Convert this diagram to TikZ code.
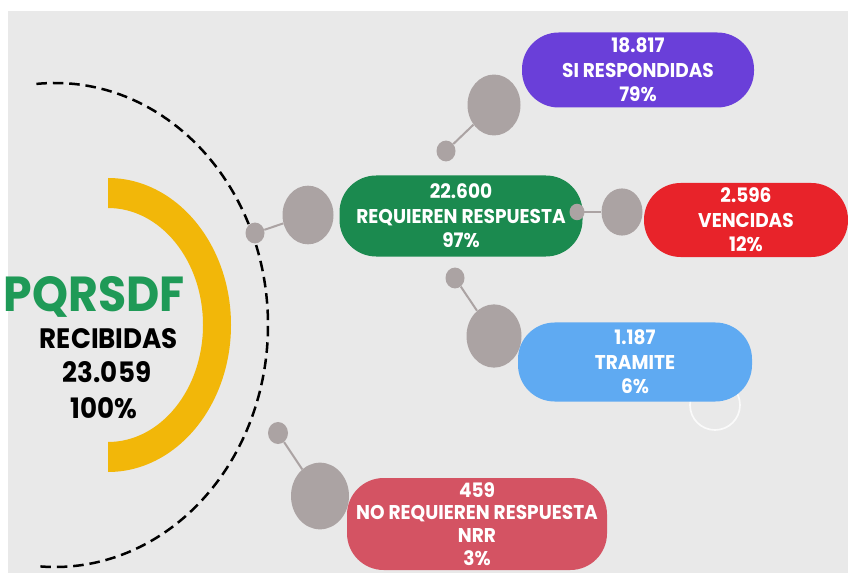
\documentclass[tikz,border=0pt]{standalone}
\usepackage{fontspec}
\setmainfont{Poppins}[FakeStretch=0.93]
\usepackage{tikz}
\usetikzlibrary{shapes.geometric, positioning}
\usepackage{xcolor}
\definecolor{bggray}{HTML}{E9E9E9}
\definecolor{dotgray}{HTML}{ABA3A3}
\definecolor{pqgreen}{HTML}{1F9A57}
\definecolor{reqgreen}{HTML}{1B8A4F}
\definecolor{pqyellow}{HTML}{F2B709}
\definecolor{sipurple}{HTML}{6A3FD9}
\definecolor{venred}{HTML}{E8232A}
\definecolor{trablue}{HTML}{5FAAF2}
\definecolor{nrrrose}{HTML}{D45363}
\tikzset{
  pill/.style={
    rectangle, rounded corners=1.1cm, fill=#1, text=white, align=center,
    inner sep=0pt, font=\bfseries\fontsize{17}{21}\selectfont
  },
  bigdot/.style={
    ellipse, fill=dotgray, inner sep=0pt,
    minimum width=#1*0.03cm, minimum height=#1*0.0345cm
  },
  smalldot/.style={
    ellipse, fill=dotgray, inner sep=0pt,
    minimum width=#1*0.03cm, minimum height=#1*0.033cm
  },
  link/.style={draw=dotgray, line width=0.06cm},
  dashline/.style={black, line width=0.075cm, dash pattern=on 9pt off 5pt},
  bigtext/.style={font=\bfseries\fontsize{#1}{#1}\selectfont}
}

\begin{document}
\begin{tikzpicture}[x=0.03cm, y=-0.03cm]
  \useasboundingbox (0,0) rectangle (848,573);
  \clip (0,0) rectangle (848,573);
  \fill[white] (0,0) rectangle (848,573);
  \fill[bggray] (8,11) rectangle (848,573);

  % dashed half ring
  \draw[dashline] (55,325) ++(-95:213 and 242)
    arc[start angle=-95, end angle=95, x radius=213, y radius=242];

  % yellow half ring
  \fill[pqyellow] (108,178)
    arc[start angle=-90, end angle=90, x radius=123, y radius=147]
    -- (108,442)
    arc[start angle=90, end angle=-90, x radius=95, y radius=117]
    -- cycle;

  % centre text
  \node[bigtext=42, text=pqgreen] (title) at (94,297) {PQRSDF};
  \node[bigtext=24] (recv) at (109,339) {RECIBIDAS};
  \node[bigtext=24] (total) at (107,372) {23.059};
  \node[bigtext=24] (pct) at (104,408) {100\%};

  % dots
  \node[smalldot=19] (s1) at (255,233) {};
  \node[bigdot=51] (b1) at (308,215) {};
  \node[smalldot=19] (s2) at (446,151) {};
  \node[bigdot=53] (b2) at (494,105) {};
  \node[smalldot=19] (s3) at (455,278) {};
  \node[bigdot=55] (b3) at (494,336) {};
  \node[bigdot=41] (b4) at (622,212) {};
  \node[smalldot=20] (s5) at (278,433) {};
  \node[bigdot=58] (b5) at (320,496) {};
  \coordinate (s4) at (577,212);
  \foreach \a/\b in {s1/b1,s2/b2,s3/b3,s4/b4,s5/b5}{%
    \draw[link] (\a) -- (\b);}

  % faint clock behind the blue box
  \draw[white, opacity=0.8, line width=0.05cm] (715,405) circle[radius=25];

  % boxes
  \node[pill=reqgreen, minimum width=7.29cm, minimum height=2.43cm]
    (req) at (461,216) {22.600\\REQUIEREN RESPUESTA\\97\%};
  \node[pill=sipurple, minimum width=6.96cm, minimum height=2.25cm]
    (si) at (638,70) {18.817\\SI RESPONDIDAS\\79\%};
  \node[pill=venred, minimum width=6.12cm, minimum height=2.22cm]
    (ven) at (746,220) {2.596\\VENCIDAS\\12\%};
  \node[pill=trablue, minimum width=7.02cm, minimum height=2.37cm]
    (tra) at (635,362) {1.187\\TRAMITE\\6\%};
  \node[pill=nrrrose, minimum width=7.8cm, minimum height=2.76cm,
        font=\bfseries\fontsize{17}{19.5}\selectfont]
    (nrr) at (477,524) {459\\NO REQUIEREN RESPUESTA\\NRR\\3\%};
  \node[smalldot=15] at (s4) {};
\end{tikzpicture}
\end{document}
